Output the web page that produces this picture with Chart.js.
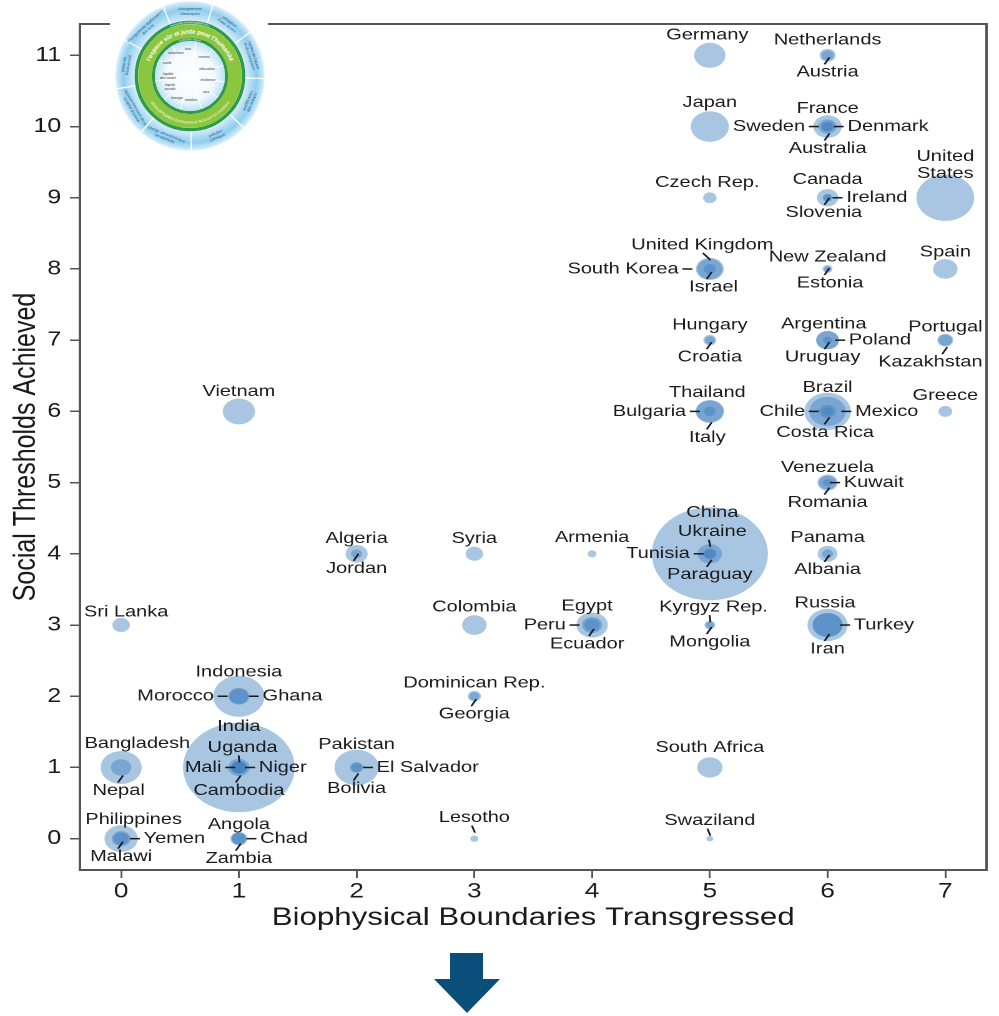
<!DOCTYPE html>
<html>
<head>
<meta charset="utf-8">
<script src="https://cdn.jsdelivr.net/npm/chart.js@4.4.1/dist/chart.umd.min.js"></script>
<style>
  html, body { margin: 0; padding: 0; background: #fff; }
  #page { position: relative; width: 999px; height: 1016px; overflow: hidden; }
  /* the source picture is stretched sideways, so the chart is drawn 800px wide and widened */
  #stretch { position: absolute; left: 0; top: 0; width: 800px; height: 1016px; transform: scaleX(1.24875); transform-origin: 0 0; }
  #donut { position: absolute; left: 110px; top: 0; }
  #arrow { position: absolute; left: 0; top: 0; pointer-events: none; }
</style>
</head>
<body>
<div id="page">
  <div id="stretch"><canvas id="chart" width="800" height="1016"></canvas></div>
  <svg id="donut" width="158" height="156" viewBox="0 0 158 156"></svg>
  <svg id="arrow" width="999" height="1016" viewBox="0 0 999 1016">
    <polygon points="450,953 483,953 483,979 500,979 467,1013 434,979 450,979" fill="#0a4f7a"/>
  </svg>
</div>
<script>
const countries = ["Germany","Netherlands","Austria","Japan","France","Sweden","Denmark","Australia",
  "Czech Rep.","Canada","Ireland","Slovenia","United States","United Kingdom","South Korea","Israel",
  "New Zealand","Estonia","Spain","Hungary","Croatia","Argentina","Poland","Uruguay","Portugal","Kazakhstan",
  "Vietnam","Thailand","Bulgaria","Italy","Brazil","Chile","Mexico","Costa Rica","Greece",
  "Venezuela","Kuwait","Romania","Algeria","Jordan","Syria","Armenia","China","Ukraine","Tunisia","Paraguay",
  "Panama","Albania","Sri Lanka","Colombia","Egypt","Peru","Ecuador","Kyrgyz Rep.","Mongolia",
  "Russia","Turkey","Iran","Indonesia","Morocco","Ghana","Dominican Rep.","Georgia",
  "Bangladesh","Nepal","India","Uganda","Mali","Niger","Cambodia","Pakistan","El Salvador","Bolivia",
  "South Africa","Philippines","Yemen","Malawi","Angola","Chad","Zambia","Lesotho","Swaziland"];

// biophysical boundaries transgressed (x)
const boundaries = [5,6,6, 5,6,6,6,6, 5,6,6,6,7, 5,5,5, 6,6,7, 5,5,6,6,6,7,7,
  1,5,5,5,6,6,6,6,7, 6,6,6, 2,2,3,4,5,5,5,5, 6,6, 0,3,4,4,4,5,5, 6,6,6, 1,1,1,3,3,
  0,0,1,1,1,1,1,2,2,2, 5, 0,0,0,1,1,1,3,5];

// social thresholds achieved (y)
const thresholds = [11,11,11, 10,10,10,10,10, 9,9,9,9,9, 8,8,8, 8,8,8, 7,7,7,7,7,7,7,
  6,6,6,6,6,6,6,6,6, 5,5,5, 4,4,4,4,4,4,4,4, 4,4, 3,3,3,3,3,3,3, 3,3,3, 2,2,2,2,2,
  1,1,1,1,1,1,1,1,1,1, 1, 0,0,0,0,0,0,0,0];

// population, millions (bubble area)
const population = [81.8,16.7,8.4, 127.8,65.3,9.4,5.6,22.3, 10.5,34.3,4.6,2.1,311.6, 63.3,49.8,7.8,
  4.4,1.3,46.7, 10.0,4.3,40.7,38.5,3.4,10.6,16.6,
  87.8,66.6,7.3,59.4,196.9,17.3,114.8,4.7,11.1, 29.5,3.1,20.1, 36.7,6.2,20.8,3.0,1344,45.7,10.7,6.6,
  28,6, 20.9,46.9,82.5,29.6,15.2,5.5,2.8, 143,73.1,75.4, 242.3,32.3,25.0,10.1,4.5,
  150.5,30.5,1241,34.5,15.8,16.1,14.3,176.7,6.2,10.1, 50.6, 94.9,24.8,15.4,19.6,12.1,13.5,2.2,1.2];

const xTicks = [0,1,2,3,4,5,6,7];
const yTicks = [0,1,2,3,4,5,6,7,8,9,10,11];

// label placement: t = above, T = above with leader, b = below, l = left, r = right
// second value: vertical offset (t/T/b) or text edge offset (l/r); third: sideways shift
const labelAt = {
  "Germany": ["t",-20,-2], "Netherlands": ["t",-15], "Austria": ["b",17],
  "Japan": ["t",-24], "France": ["t",-18], "Sweden": ["l",-18], "Denmark": ["r",16], "Australia": ["b",22],
  "Czech Rep.": ["t",-15,-2], "Canada": ["t",-18], "Ireland": ["r",15], "Slovenia": ["b",15,-3],
  "United States": ["t",-24],
  "United Kingdom": ["T",-24,-6], "South Korea": ["l",-25], "Israel": ["b",18,3],
  "New Zealand": ["t",-12], "Estonia": ["b",14,2], "Spain": ["t",-17],
  "Hungary": ["t",-15], "Croatia": ["b",17], "Argentina": ["t",-16,-3], "Poland": ["r",17], "Uruguay": ["b",17,-4],
  "Portugal": ["t",-13], "Kazakhstan": ["b",22,-12],
  "Vietnam": ["t",-20], "Thailand": ["t",-19,-2], "Bulgaria": ["l",-19], "Italy": ["b",26,-2],
  "Brazil": ["t",-24], "Chile": ["l",-18], "Mexico": ["r",22], "Costa Rica": ["b",21,-2], "Greece": ["t",-16],
  "Venezuela": ["t",-15], "Kuwait": ["r",13], "Romania": ["b",20],
  "Algeria": ["t",-15], "Jordan": ["b",15], "Syria": ["t",-15], "Armenia": ["t",-16],
  "China": ["t",-41,2], "Ukraine": ["T",-22,2], "Tunisia": ["l",-16], "Paraguay": ["b",21],
  "Panama": ["t",-16], "Albania": ["b",16],
  "Sri Lanka": ["t",-13,4], "Colombia": ["t",-18], "Egypt": ["t",-19,-4], "Peru": ["l",-21], "Ecuador": ["b",19,-4],
  "Kyrgyz Rep.": ["T",-18,3], "Mongolia": ["b",17],
  "Russia": ["t",-22,-2], "Turkey": ["r",21], "Iran": ["b",24],
  "Indonesia": ["t",-24], "Morocco": ["l",-20], "Ghana": ["r",19],
  "Dominican Rep.": ["t",-13], "Georgia": ["b",18],
  "Bangladesh": ["t",-24,13], "Nepal": ["b",23,-2],
  "India": ["t",-41], "Uganda": ["T",-20,3], "Mali": ["l",-14], "Niger": ["r",16], "Cambodia": ["b",23],
  "Pakistan": ["t",-23], "El Salvador": ["r",16], "Bolivia": ["b",21],
  "South Africa": ["t",-20],
  "Philippines": ["t",-19,10], "Yemen": ["r",18], "Malawi": ["b",18],
  "Angola": ["t",-14], "Chad": ["r",17], "Zambia": ["b",20],
  "Lesotho": ["T",-21], "Swaziland": ["T",-18]
};

const FONT = '"Liberation Sans", Arial, Helvetica, sans-serif';

// bubbles must not push the plot frame inwards
Chart.BubbleController.prototype.getMaxOverflow = function () { return 0; };

function bubbleRadius(pop) {
  return 1.4 + 1.23 * Math.sqrt(pop);
}

const framePlugin = {
  id: 'frame',
  beforeDatasetsDraw(chart) {
    const {ctx, chartArea: a} = chart;
    ctx.save();
    ctx.strokeStyle = '#555';
    ctx.lineWidth = 2;
    ctx.strokeRect(a.left, a.top, a.right - a.left, a.bottom - a.top);
    ctx.restore();
  }
};

const labelPlugin = {
  id: 'countryLabels',
  afterDatasetsDraw(chart) {
    const ctx = chart.ctx;
    const pts = chart.getDatasetMeta(0).data;
    ctx.save();
    ctx.font = '16px ' + FONT;
    ctx.fillStyle = '#1a1a1a';
    ctx.strokeStyle = '#1a1a1a';
    ctx.lineWidth = 1.5;
    ctx.textBaseline = 'middle';
    countries.forEach((name, i) => {
      const [pos, off, shift = 0] = labelAt[name];
      const cx = pts[i].x, cy = pts[i].y;
      ctx.beginPath();
      if (pos === 'l' || pos === 'r') {
        const s = pos === 'l' ? -1 : 1;
        ctx.textAlign = pos === 'l' ? 'right' : 'left';
        ctx.fillText(name, cx + off, cy);
        ctx.moveTo(cx + off - s * 3, cy);
        ctx.lineTo(cx + off - s * 11, cy);
        ctx.stroke();
      } else {
        ctx.textAlign = 'center';
        const ty = cy + off;
        const lines = name === 'United States' ? ['United', 'States'] : [name];
        lines.forEach((t, k) => ctx.fillText(t, cx + shift, ty - (lines.length - 1 - k) * 17));
        if (pos === 'b') {
          ctx.moveTo(cx + 1.5, ty - 15);
          ctx.lineTo(cx - 2.5, ty - 8);
          ctx.stroke();
        }
        if (pos === 'T') {
          ctx.moveTo(cx - 2 + shift * 0.6, ty + 8);
          ctx.lineTo(cx + 0.5, ty + 15);
          ctx.stroke();
        }
      }
    });
    ctx.restore();
  }
};

new Chart(document.getElementById('chart'), {
  type: 'bubble',
  data: {
    datasets: [{
      data: countries.map((c, i) => ({x: boundaries[i], y: thresholds[i], r: bubbleRadius(population[i])})),
      backgroundColor: 'rgba(62,126,190,0.45)',
      borderWidth: 0,
      hoverBorderWidth: 0,
      clip: false
    }]
  },
  options: {
    responsive: false,
    animation: false,
    devicePixelRatio: 2,
    events: [],
    layout: { padding: { top: 24, right: 10, left: 0, bottom: 0 } },
    plugins: { legend: { display: false }, tooltip: { enabled: false } },
    scales: {
      x: {
        type: 'linear', min: -0.35, max: 7.35,
        afterBuildTicks: s => { s.ticks = xTicks.map(v => ({value: v})); },
        afterFit: s => { s.height = 146; },
        grid: { drawOnChartArea: false, drawTicks: true, tickLength: 8, color: '#555', lineWidth: 1.5 },
        border: { display: false },
        ticks: { font: { size: 21, family: FONT }, color: '#1a1a1a', padding: 1, maxRotation: 0, autoSkip: false },
        title: { display: true, text: 'Biophysical Boundaries Transgressed', color: '#1a1a1a',
                 font: { size: 25, family: FONT }, padding: { top: 0, bottom: 83 } }
      },
      y: {
        type: 'linear', min: -0.44, max: 11.44,
        afterBuildTicks: s => { s.ticks = yTicks.map(v => ({value: v})); },
        afterFit: s => { s.width = 64; },
        grid: { drawOnChartArea: false, drawTicks: true, tickLength: 8, color: '#555', lineWidth: 1.5 },
        border: { display: false },
        ticks: { font: { size: 20, family: FONT }, color: '#1a1a1a', padding: 7, autoSkip: false },
        title: { display: true, text: 'Social Thresholds Achieved', color: '#1a1a1a',
                 font: { size: 25, family: FONT }, padding: { top: 6, bottom: 0 } }
      }
    }
  },
  plugins: [framePlugin, labelPlugin]
});

// doughnut picture in the corner (decoration)
function drawDonut() {
  const cx = 80, cy = 76;
  const rad = d => d * Math.PI / 180;
  let s = `<defs>
    <radialGradient id="glow" cx="${cx}" cy="${cy}" r="76" gradientUnits="userSpaceOnUse">
      <stop offset="0" stop-color="#ffffff"/>
      <stop offset="0.72" stop-color="#d6edf9"/>
      <stop offset="0.88" stop-color="#8fcdee"/>
      <stop offset="0.96" stop-color="#c8e7f7"/>
      <stop offset="1" stop-color="#ffffff"/>
    </radialGradient>
    <radialGradient id="core" cx="${cx}" cy="${cy}" r="35" gradientUnits="userSpaceOnUse">
      <stop offset="0" stop-color="#ffffff"/>
      <stop offset="0.7" stop-color="#f2f9fd"/>
      <stop offset="1" stop-color="#bde1f4"/>
    </radialGradient>
    <path id="bandTop" d="M ${cx-42.5} ${cy} A 42.5 42.5 0 0 1 ${cx+42.5} ${cy}"/>
    <path id="bandBot" d="M ${cx-47.5} ${cy} A 47.5 47.5 0 0 0 ${cx+47.5} ${cy}"/>
    <path id="outerTop" d="M ${cx-52.6} ${cy} A 52.6 52.6 0 0 1 ${cx+52.6} ${cy}"/>
    <path id="innerTop" d="M ${cx-35.8} ${cy} A 35.8 35.8 0 0 1 ${cx+35.8} ${cy}"/>
  </defs>
  <rect width="158" height="156" fill="#fff"/>
  <circle cx="${cx}" cy="${cy}" r="75" fill="url(#glow)"/>`;
  [18, 54, 92, 134, 179, 221, 260, 299, 339].forEach(a => {
    s += `<line x1="${cx + 55 * Math.sin(rad(a))}" y1="${cy - 55 * Math.cos(rad(a))}" x2="${cx + 76 * Math.sin(rad(a))}" y2="${cy - 76 * Math.cos(rad(a))}" stroke="#fff" stroke-width="1.2"/>`;
  });
  const outer = [[0, 'changements', 'climatiques'], [36, "utilisation", "d'eau douce"],
    [72, "cycles de l'azote", 'et du phosphore'], [113, 'acidification', 'des océans'],
    [156, 'pollution', 'chimique'], [202, 'charge atmosphérique', 'en aérosols'],
    [240, 'appauvrissement de la', "couche d'ozone"], [280, 'perte de', 'biodiversité'],
    [318, "changements d'affectation", 'des sols']];
  outer.forEach(([a, l1, l2]) => {
    const x = cx + 65 * Math.sin(rad(a)), y = cy - 65 * Math.cos(rad(a));
    const rot = (a > 90 && a < 270) ? a + 180 : a;
    s += `<g transform="translate(${x},${y}) rotate(${rot})" font-family="Liberation Sans, Arial" font-size="4" fill="#24588a" text-anchor="middle">
      <text y="-1">${l1}</text><text y="3.6">${l2}</text></g>`;
  });
  s += `<circle cx="${cx}" cy="${cy}" r="53.6" fill="none" stroke="#2f9a47" stroke-width="3.4"/>
  <circle cx="${cx}" cy="${cy}" r="45" fill="none" stroke="#8cc63f" stroke-width="13.6"/>
  <circle cx="${cx}" cy="${cy}" r="36.6" fill="none" stroke="#2f9a47" stroke-width="3.2"/>
  <circle cx="${cx}" cy="${cy}" r="35" fill="url(#core)"/>`;
  [10, 40, 72, 100, 128, 160, 196, 228, 262, 298, 330].forEach(a => {
    s += `<line x1="${cx + 8 * Math.sin(rad(a))}" y1="${cy - 8 * Math.cos(rad(a))}" x2="${cx + 35 * Math.sin(rad(a))}" y2="${cy - 35 * Math.cos(rad(a))}" stroke="#fff" stroke-width="1"/>`;
  });
  const inner = [['eau', 78, 50], ['revenu', 94, 58], ['éducation', 97, 70], ['résilience', 98, 81],
    ['voix', 96, 93], ['emplois', 81, 101], ['énergie', 67, 99], ['équité', 60, 86], ['sociale', 60, 90],
    ['égalité', 58, 75], ['des sexes', 58, 79], ['santé', 57, 64], ['nourriture', 66, 54]];
  inner.forEach(([t, x, y]) => {
    s += `<text x="${x}" y="${y}" font-family="Liberation Sans, Arial" font-size="3.6" fill="#333" text-anchor="middle">${t}</text>`;
  });
  s += `<text font-family="Liberation Sans, Arial" font-size="6" font-weight="bold" fill="#fff"><textPath href="#bandTop" startOffset="50%" text-anchor="middle">l'espace sûr et juste pour l'humanité</textPath></text>
  <text font-family="Liberation Sans, Arial" font-size="3.4" fill="#fff"><textPath href="#bandBot" startOffset="50%" text-anchor="middle">DÉVELOPPEMENT ÉCONOMIQUE INCLUSIF ET DURABLE</textPath></text>
  <text font-family="Liberation Sans, Arial" font-size="2.6" fill="#fff"><textPath href="#outerTop" startOffset="50%" text-anchor="middle">PLAFOND ENVIRONNEMENTAL</textPath></text>
  <text font-family="Liberation Sans, Arial" font-size="2.4" fill="#fff"><textPath href="#innerTop" startOffset="50%" text-anchor="middle">PLANCHER SOCIAL</textPath></text>`;
  document.getElementById('donut').innerHTML = s;
}
drawDonut();
</script>
</body>
</html>
